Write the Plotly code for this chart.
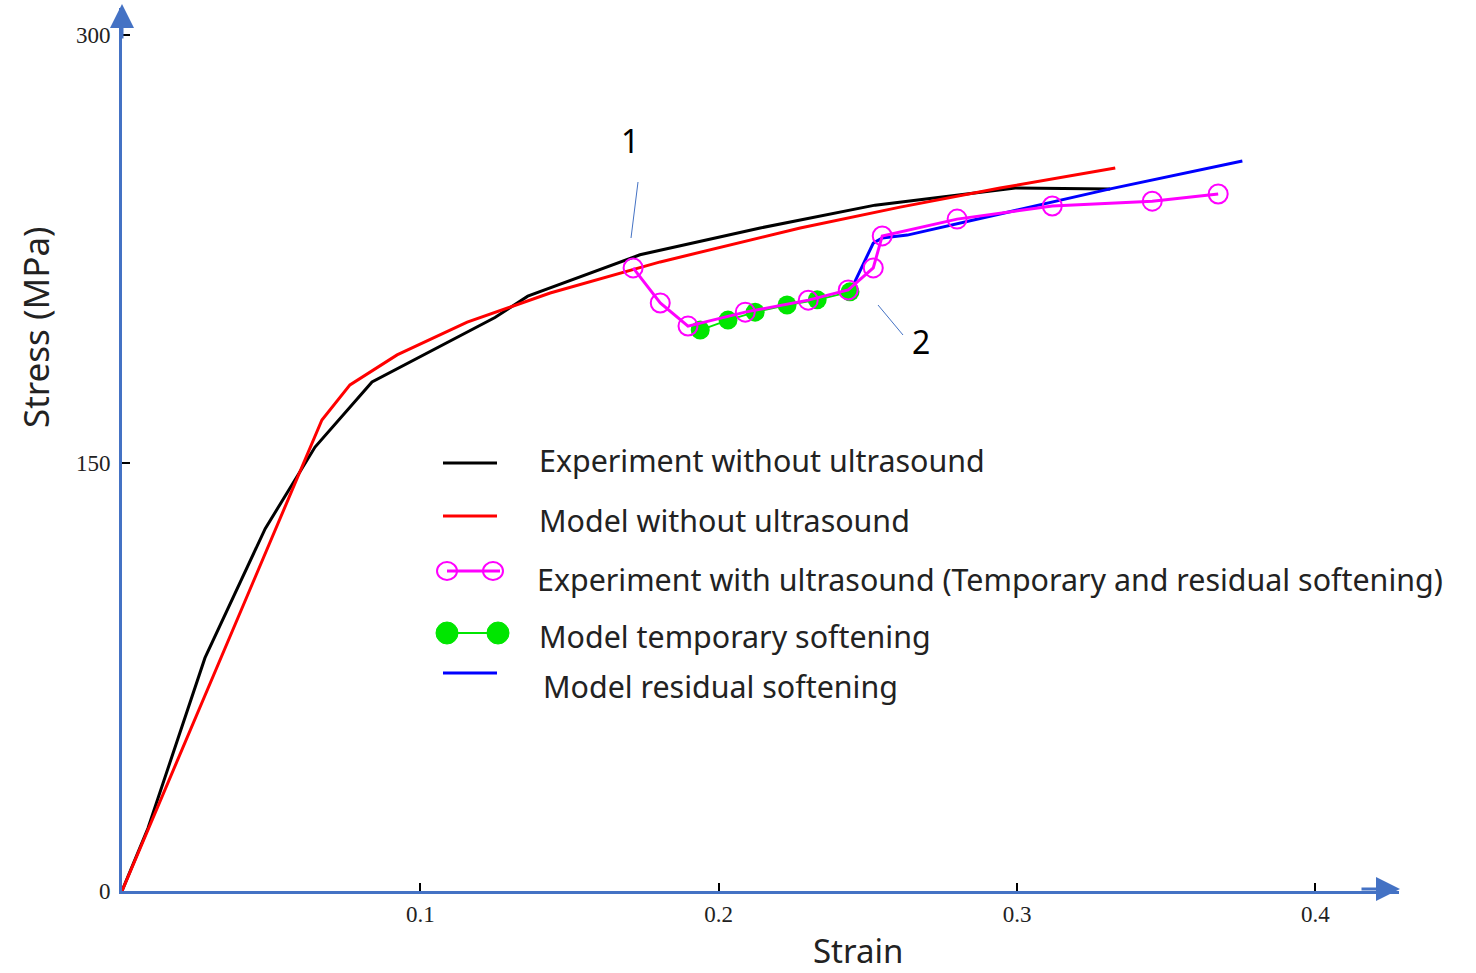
import plotly.graph_objects as go

# ---- data ----
exp_no_us_x = [0.0, 0.0087, 0.0278, 0.048, 0.0647, 0.0838, 0.125, 0.136, 0.1736, 0.2139, 0.2524, 0.2994, 0.3312]
exp_no_us_y = [0.0, 22.0, 81.7, 127.0, 155.6, 178.4, 201.0, 208.5, 223.0, 232.4, 240.4, 246.4, 246.1]

model_no_us_x = [0.0, 0.067, 0.0764, 0.0922, 0.1157, 0.1435, 0.1804, 0.2273, 0.2608, 0.2943, 0.3329]
model_no_us_y = [0.0, 165.1, 177.4, 187.9, 199.4, 209.6, 220.5, 232.4, 239.7, 246.4, 253.4]

exp_us_x = [0.1713, 0.1804, 0.1897, 0.2089, 0.2300, 0.2434, 0.2518, 0.2548, 0.2799, 0.3118, 0.3453, 0.3674]
exp_us_y = [218.4, 206.1, 198.0, 202.9, 207.1, 210.7, 218.4, 229.6, 235.5, 240.1, 241.8, 244.3]

model_temp_x = [0.1938, 0.2031, 0.2122, 0.2229, 0.2330, 0.2440]
model_temp_y = [196.6, 200.1, 202.9, 205.4, 207.2, 210.0]

model_res_x = [0.2440, 0.2518, 0.2548, 0.2632, 0.3312, 0.3755]
model_res_y = [210.0, 227.1, 228.9, 229.9, 246.1, 255.9]

x_ticks = [0.1, 0.2, 0.3, 0.4]
x_tick_labels = ["0.1", "0.2", "0.3", "0.4"]
y_ticks = [0, 150, 300]
y_tick_labels = ["0", "150", "300"]

legend_names = [
    "Experiment without ultrasound",
    "Model without ultrasound",
    "Experiment with ultrasound (Temporary and residual softening)",
    "Model temporary softening",
    "Model residual softening",
]

# ---- layout geometry (pixels) ----
W, H = 1476, 973
L, R, T, B = 122, 77, 8, 82
PW, PH = W - L - R, H - T - B

def px(x):
    return (x - L) / PW

def py(y):
    return (H - B - y) / PH

AXIS_BLUE = "#4472C4"
TEXT_FONT = "Noto Sans"
SERIF = "Liberation Serif"
TXT = "#222222"

fig = go.Figure()

fig.add_trace(go.Scatter(x=exp_no_us_x, y=exp_no_us_y, mode="lines",
                         line=dict(color="black", width=3), name=legend_names[0]))
fig.add_trace(go.Scatter(x=model_no_us_x, y=model_no_us_y, mode="lines",
                         line=dict(color="#FF0000", width=3), name=legend_names[1]))
fig.add_trace(go.Scatter(x=model_res_x, y=model_res_y, mode="lines",
                         line=dict(color="#0000FF", width=3), name=legend_names[4]))
fig.add_trace(go.Scatter(x=model_temp_x, y=model_temp_y, mode="lines+markers",
                         line=dict(color="#00E600", width=2),
                         marker=dict(color="#00E600", size=19, symbol="circle"),
                         name=legend_names[3]))
fig.add_trace(go.Scatter(x=exp_us_x, y=exp_us_y, mode="lines+markers",
                         line=dict(color="#FF00FF", width=3),
                         marker=dict(color="#FF00FF", size=19, symbol="circle-open",
                                     line=dict(width=2)),
                         name=legend_names[2]))

shapes = []
annotations = []

# manual legend
leg_rows = [
    (463, 537, 461, "black", "line"),
    (516, 537, 520, "#FF0000", "line"),
    (571, 535, 579, "#FF00FF", "open"),
    (633, 537, 636, "#00E600", "filled"),
    (673, 541, 686, "#0000FF", "line"),
]
for i, (ly, tx, ty, col, kind) in enumerate(leg_rows):
    if kind == "line":
        shapes.append(dict(type="line", xref="paper", yref="paper",
                           x0=px(443), x1=px(497), y0=py(ly), y1=py(ly),
                           line=dict(color=col, width=3)))
    elif kind == "open":
        shapes.append(dict(type="line", xref="paper", yref="paper",
                           x0=px(447), x1=px(500), y0=py(ly), y1=py(ly),
                           line=dict(color=col, width=3)))
        for cx in (447, 493):
            shapes.append(dict(type="circle", xref="paper", yref="paper",
                               xsizemode="pixel", ysizemode="pixel",
                               xanchor=px(cx), yanchor=py(ly),
                               x0=-10, x1=10, y0=-9, y1=9,
                               line=dict(color=col, width=2)))
    else:
        shapes.append(dict(type="line", xref="paper", yref="paper",
                           x0=px(447), x1=px(497), y0=py(ly), y1=py(ly),
                           line=dict(color=col, width=2)))
        for cx in (447, 498):
            shapes.append(dict(type="circle", xref="paper", yref="paper",
                               xsizemode="pixel", ysizemode="pixel",
                               xanchor=px(cx), yanchor=py(ly),
                               x0=-11, x1=11, y0=-11, y1=11,
                               fillcolor=col, line=dict(color=col, width=1)))
    annotations.append(dict(text=legend_names[i], xref="paper", yref="paper",
                            x=px(tx), y=py(ty), xanchor="left", yanchor="middle",
                            showarrow=False,
                            font=dict(family=TEXT_FONT, size=30.4, color=TXT)))

# labels 1 and 2 with thin pointer lines
shapes.append(dict(type="line", xref="paper", yref="paper",
                   x0=px(638), x1=px(631), y0=py(182), y1=py(238),
                   line=dict(color=AXIS_BLUE, width=1)))
shapes.append(dict(type="line", xref="paper", yref="paper",
                   x0=px(878), x1=px(903), y0=py(305), y1=py(335),
                   line=dict(color=AXIS_BLUE, width=1)))
annotations.append(dict(text="1", xref="paper", yref="paper", x=px(630), y=py(140),
                        xanchor="center", yanchor="middle",
                        showarrow=False, font=dict(family=TEXT_FONT, size=32, color="black")))
annotations.append(dict(text="2", xref="paper", yref="paper", x=px(921), y=py(341),
                        xanchor="center", yanchor="middle",
                        showarrow=False, font=dict(family=TEXT_FONT, size=32, color="black")))

# axis arrowheads
annotations.append(dict(x=px(122), y=py(4), xref="paper", yref="paper",
                        ax=0, ay=36, axref="pixel", ayref="pixel",
                        showarrow=True, arrowhead=2, arrowsize=1.6, arrowwidth=3,
                        arrowcolor=AXIS_BLUE, text=""))
annotations.append(dict(x=px(1400), y=py(889), xref="paper", yref="paper",
                        ax=-40, ay=0, axref="pixel", ayref="pixel",
                        showarrow=True, arrowhead=2, arrowsize=1.6, arrowwidth=3,
                        arrowcolor=AXIS_BLUE, text=""))

# axis titles
annotations.append(dict(text="Stress (MPa)", xref="paper", yref="paper",
                        x=px(35), y=py(327), textangle=-90, showarrow=False,
                        xanchor="center", yanchor="middle",
                        font=dict(family=TEXT_FONT, size=35, color=TXT)))
annotations.append(dict(text="Strain", xref="paper", yref="paper",
                        x=px(858), y=py(951), showarrow=False,
                        xanchor="center", yanchor="middle",
                        font=dict(family=TEXT_FONT, size=33, color=TXT)))

fig.update_layout(
    width=W, height=H,
    margin=dict(l=L, r=R, t=T, b=B),
    paper_bgcolor="white", plot_bgcolor="white",
    showlegend=False,
    shapes=shapes,
    annotations=annotations,
    xaxis=dict(range=[0, 0.428], showgrid=False, zeroline=False,
               showline=True, linecolor=AXIS_BLUE, linewidth=3,
               tickvals=x_ticks, ticktext=x_tick_labels,
               ticks="inside", ticklen=8, tickwidth=2, tickcolor="black",
               tickfont=dict(family=SERIF, size=23, color=TXT)),
    yaxis=dict(range=[0, 309.5], showgrid=False, zeroline=False,
               showline=True, linecolor=AXIS_BLUE, linewidth=3,
               tickvals=y_ticks, ticktext=y_tick_labels,
               ticks="inside", ticklen=8, tickwidth=2, tickcolor="black",
               ticklabelstandoff=4,
               tickfont=dict(family=SERIF, size=23, color=TXT)),
)

fig.write_html("out.html")
